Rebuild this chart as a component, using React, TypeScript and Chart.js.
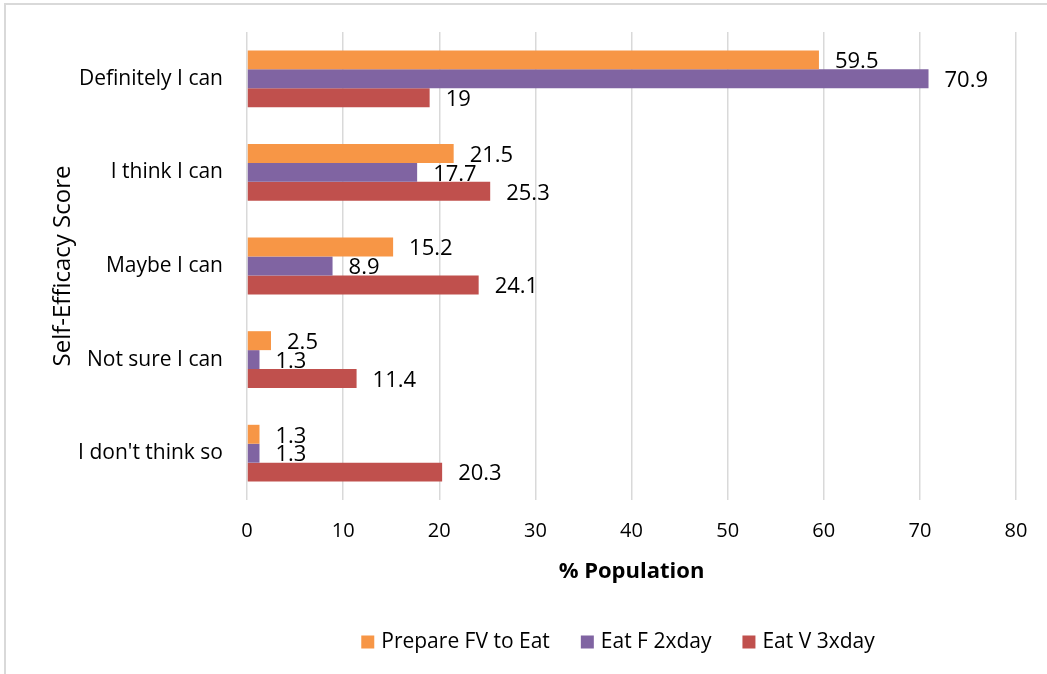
import React, { useEffect, useRef } from "react";
import { Chart, registerables } from "chart.js";

Chart.register(...registerables);

const categories = ["Definitely I can", "I think I can", "Maybe I can", "Not sure I can", "I don't think so"];
const seriesNames = ["Prepare FV to Eat", "Eat F 2xday", "Eat V 3xday"];
const prepareFV = [59.5, 21.5, 15.2, 2.5, 1.3];
const eatF2x = [70.9, 17.7, 8.9, 1.3, 1.3];
const eatV3x = [19, 25.3, 24.1, 11.4, 20.3];
const xTicks = [0, 10, 20, 30, 40, 50, 60, 70, 80];
const colors = ["#F79646", "#8064A2", "#C0504D"];

const FONT = "'Open Sans', 'DejaVu Sans', sans-serif";

const dataLabelPlugin = {
  id: "dataLabels",
  afterDatasetsDraw(chart: any) {
    const ctx = chart.ctx;
    ctx.save();
    ctx.font = `22px ${FONT}`;
    ctx.fillStyle = "#000";
    ctx.textAlign = "left";
    ctx.textBaseline = "middle";
    chart.data.datasets.forEach((ds: any, i: number) => {
      const meta = chart.getDatasetMeta(i);
      meta.data.forEach((el: any, j: number) => {
        ctx.fillText(String(ds.data[j]), el.x + 16, el.y + 2);
      });
    });
    ctx.restore();
  },
};

const legendPlugin = {
  id: "customLegend",
  afterDraw(chart: any) {
    const ctx = chart.ctx;
    ctx.save();
    ctx.font = `21px ${FONT}`;
    ctx.textBaseline = "middle";
    ctx.textAlign = "left";
    const box = 13;
    const gapText = 7;
    const gapItem = 31;
    const items = chart.data.datasets.map((ds: any) => ({
      label: ds.label,
      color: ds.backgroundColor,
      w: ctx.measureText(ds.label).width,
    }));
    const total = items.reduce((s: number, it: any) => s + box + gapText + it.w, 0) + gapItem * (items.length - 1);
    let x = 618 - total / 2;
    const y = 642;
    items.forEach((it: any) => {
      ctx.fillStyle = it.color;
      ctx.fillRect(x, y - box / 2, box, box);
      x += box + gapText;
      ctx.fillStyle = "#000";
      ctx.fillText(it.label, x, y);
      x += it.w + gapItem;
    });
    ctx.restore();
  },
};

export default function App() {
  const ref = useRef<HTMLCanvasElement | null>(null);
  useEffect(() => {
    if (!ref.current) return;
    const chart = new Chart(ref.current, {
      type: "bar",
      data: {
        labels: categories,
        datasets: [prepareFV, eatF2x, eatV3x].map((d, i) => ({
          label: seriesNames[i],
          data: d,
          backgroundColor: colors[i],
          categoryPercentage: 0.607,
          barPercentage: 1.0,
        })),
      },
      options: {
        indexAxis: "y",
        animation: false,
        responsive: false,
        layout: { padding: { left: 0, top: 32, right: 31, bottom: 60 } },
        plugins: { legend: { display: false }, tooltip: { enabled: false } },
        scales: {
          x: {
            min: 0,
            max: 80,
            afterBuildTicks: (scale: any) => {
              scale.ticks = xTicks.map((v) => ({ value: v }));
            },
            afterFit: (scale: any) => {
              scale.height = 114;
              scale.paddingLeft = 0;
              scale.paddingRight = 0;
            },
            grid: { color: "#d9d9d9", lineWidth: 1.5, drawTicks: false },
            border: { display: false },
            ticks: { color: "#000", font: { size: 20, family: FONT }, padding: 19 },
            title: {
              display: true,
              text: "% Population",
              color: "#000",
              font: { size: 22, weight: "bold", family: FONT },
              padding: { top: 0, bottom: 29 },
            },
          },
          y: {
            afterFit: (scale: any) => {
              scale.width = 247;
              scale.paddingTop = 0;
              scale.paddingBottom = 0;
            },
            grid: { display: false, drawTicks: false },
            border: { display: false },
            ticks: { color: "#000", font: { size: 21, family: FONT }, padding: 24 },
            title: {
              display: true,
              text: "Self-Efficacy Score",
              color: "#000",
              font: { size: 24, family: FONT },
              padding: { top: 49, bottom: 0 },
            },
          },
        },
      } as any,
      plugins: [dataLabelPlugin, legendPlugin],
    });
    return () => chart.destroy();
  }, []);

  return (
    <div style={{ position: "absolute", left: 0, top: 0, width: 1047, height: 674, overflow: "hidden", background: "#fff" }}>
      <div
        style={{
          position: "absolute",
          left: 4,
          top: 3,
          width: 1200,
          height: 800,
          borderLeft: "2px solid #d9d9d9",
          borderTop: "2px solid #d9d9d9",
        }}
      />
      <canvas ref={ref} width={1047} height={674} style={{ position: "absolute", left: 0, top: 0, display: "block" }} />
    </div>
  );
}
